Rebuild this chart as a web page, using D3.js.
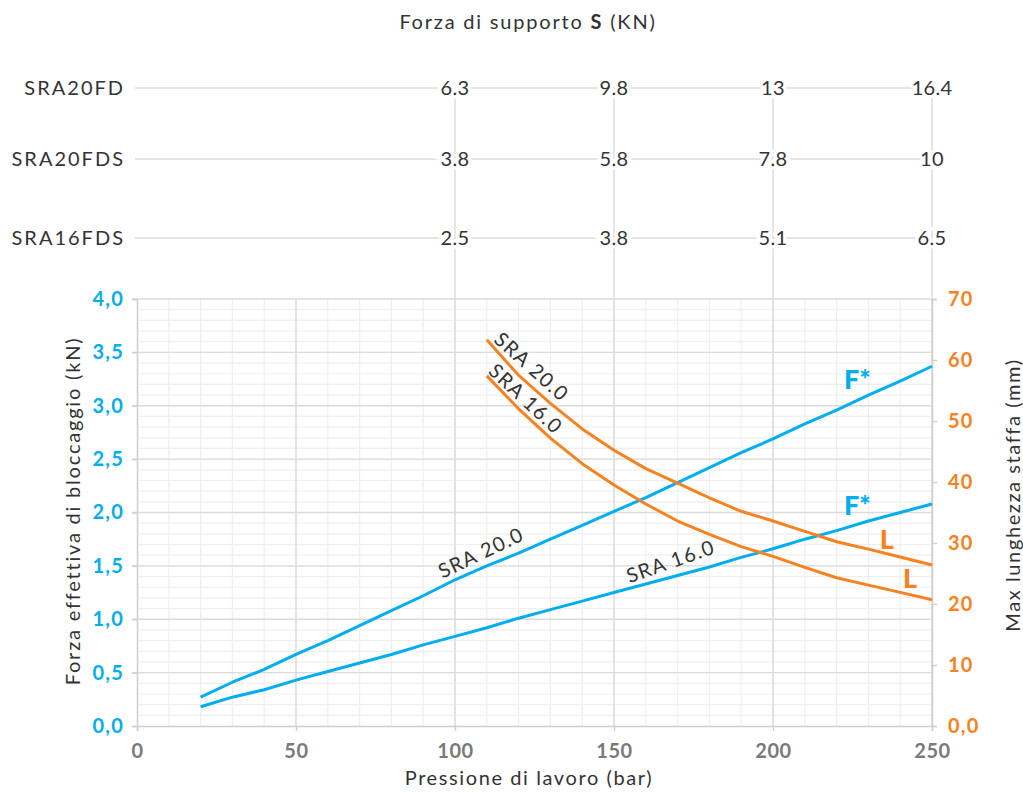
<!DOCTYPE html>
<html>
<head>
<meta charset="utf-8">
<script src="https://cdn.jsdelivr.net/npm/d3@7"></script>
<style>
  body { margin: 0; background: #fff; }
  text { font-family: Lato, "Open Sans", sans-serif; }
</style>
</head>
<body>
<div class="chart"></div>
<script>
const w = 1023;
const h = 792;

// top table: support force S (kN) per model at 100/150/200/250 bar
const models = ["SRA20FD", "SRA20FDS", "SRA16FDS"];
const tablePressures = [100, 150, 200, 250];
const supportForce = [
    [6.3, 9.8, 13, 16.4],
    [3.8, 5.8, 7.8, 10],
    [2.5, 3.8, 5.1, 6.5]
];

// clamping force curves (kN)
const pressureF = [20, 30, 40, 50, 60, 70, 80, 90, 100, 110, 120, 130, 140, 150, 160, 170, 180, 190, 200, 210, 220, 230, 240, 250];
const forceSRA20 = [0.27, 0.41, 0.53, 0.67, 0.80, 0.94, 1.08, 1.22, 1.37, 1.50, 1.62, 1.75, 1.88, 2.01, 2.14, 2.28, 2.42, 2.56, 2.69, 2.83, 2.96, 3.10, 3.23, 3.37];
const forceSRA16 = [0.18, 0.27, 0.34, 0.43, 0.51, 0.59, 0.67, 0.76, 0.84, 0.92, 1.01, 1.09, 1.17, 1.25, 1.33, 1.41, 1.49, 1.58, 1.66, 1.75, 1.83, 1.92, 2.00, 2.08];

// max clamp arm length curves (mm)
const pressureL = [110, 120, 130, 140, 150, 160, 170, 180, 190, 200, 210, 220, 230, 240, 250];
const lengthSRA20 = [63.3, 57.5, 52.9, 48.7, 45.2, 42.2, 39.8, 37.4, 35.2, 33.6, 31.9, 30.2, 29.0, 27.7, 26.4];
const lengthSRA16 = [57.4, 52.0, 47.2, 43.0, 39.5, 36.4, 33.6, 31.4, 29.4, 27.8, 26.0, 24.3, 23.1, 21.9, 20.7];

const xTicks = [0, 50, 100, 150, 200, 250];
const leftTicks = [0, 0.5, 1, 1.5, 2, 2.5, 3, 3.5, 4];
const rightTicks = [0, 10, 20, 30, 40, 50, 60, 70];

const blue = "#00aeef";
const orange = "#f7821f";
const ink = "#333";
const rowY = [88, 159, 238];

const svg = d3.select(".chart")
    .append("svg")
    .attr("width", w)
    .attr("height", h)

const x = d3.scaleLinear([0, 250], [137, 932]);
const yL = d3.scaleLinear([0, 4], [726, 299]);
const yR = d3.scaleLinear([0, 70], [726, 299]);

// grid
const grid = svg.append("g");
grid.selectAll(".vminor")
    .data(d3.range(10, 250, 10))
    .enter().append("line")
    .attr("x1", d => x(d)).attr("x2", d => x(d))
    .attr("y1", yL(4)).attr("y2", yL(0))
    .attr("stroke", "#efefef").attr("stroke-width", 1.2)
grid.selectAll(".hminor")
    .data(d3.range(0.1, 4, 0.1))
    .enter().append("line")
    .attr("x1", x(0)).attr("x2", x(250))
    .attr("y1", d => yL(d)).attr("y2", d => yL(d))
    .attr("stroke", "#efefef").attr("stroke-width", 1.2)
grid.selectAll(".vmajor")
    .data(xTicks.slice(1))
    .enter().append("line")
    .attr("x1", d => x(d)).attr("x2", d => x(d))
    .attr("y1", d => d >= 100 ? rowY[0] : yL(4)).attr("y2", yL(0))
    .attr("stroke", "#dcdcdc").attr("stroke-width", 1.4)
grid.selectAll(".hmajor")
    .data(leftTicks.slice(1))
    .enter().append("line")
    .attr("x1", x(0) - 5).attr("x2", x(250))
    .attr("y1", d => yL(d)).attr("y2", d => yL(d))
    .attr("stroke", "#dcdcdc").attr("stroke-width", 1.4)

// top table
const table = svg.append("g");
table.selectAll(".rowline")
    .data(models)
    .enter().append("line")
    .attr("x1", 135).attr("x2", x(250))
    .attr("y1", (d, i) => rowY[i]).attr("y2", (d, i) => rowY[i])
    .attr("stroke", "#dcdcdc").attr("stroke-width", 1.4)
table.selectAll(".model")
    .data(models)
    .enter().append("text")
    .attr("x", 125)
    .attr("y", (d, i) => rowY[i] + 7)
    .attr("text-anchor", "end")
    .attr("fill", ink)
    .style("font-size", "20px")
    .style("letter-spacing", "2px")
    .text(d => d)
supportForce.forEach((row, i) => {
    table.selectAll(".val" + i)
        .data(row)
        .enter().append("text")
        .attr("x", (d, j) => x(tablePressures[j]))
        .attr("y", rowY[i] + 7)
        .attr("text-anchor", "middle")
        .attr("fill", ink)
        .attr("stroke", "#fff")
        .attr("stroke-width", 7)
        .attr("paint-order", "stroke")
        .style("font-size", "20px")
        .style("letter-spacing", "0.3px")
        .text(d => d)
})

const title = svg.append("text")
    .attr("x", 528).attr("y", 29)
    .attr("text-anchor", "middle")
    .attr("fill", ink)
    .style("font-size", "20px")
    .style("letter-spacing", "1.8px")
title.append("tspan").text("Forza di supporto ")
title.append("tspan").style("font-weight", 700).text("S")
title.append("tspan").text(" (KN)")

// axes
const fmtComma = d => d3.format(".1f")(d).replace(".", ",");

const axL = svg.append("g")
    .attr("transform", `translate(${x(0)},0)`)
    .call(d3.axisLeft(yL).tickValues(leftTicks).tickFormat(fmtComma).tickSize(5).tickPadding(8))
axL.selectAll("text").attr("fill", blue).style("font-size", "20px").style("font-weight", 700).style("letter-spacing", "1.2px")

const axR = svg.append("g")
    .attr("transform", `translate(${x(250)},0)`)
    .call(d3.axisRight(yR).tickValues(rightTicks).tickFormat(d => d === 0 ? "0,0" : d).tickSize(5).tickPadding(11))
axR.selectAll("text").attr("fill", orange).style("font-size", "20px").style("font-weight", 700).style("letter-spacing", "1.2px")

const axB = svg.append("g")
    .attr("transform", `translate(0,${yL(0)})`)
    .call(d3.axisBottom(x).tickValues(xTicks).tickSize(5).tickPadding(13))
axB.selectAll("text").attr("fill", "#7a7a7a").style("font-size", "20px").style("font-weight", 700).style("letter-spacing", "0.6px")

svg.selectAll(".domain").attr("stroke", "#cfcfcf").attr("stroke-width", 1.6)
svg.selectAll(".tick line").attr("stroke", "#cfcfcf").attr("stroke-width", 1.4)

svg.append("text")
    .attr("transform", "translate(80,511) rotate(-90)")
    .attr("text-anchor", "middle")
    .attr("fill", ink)
    .style("font-size", "20px")
    .style("letter-spacing", "1.8px")
    .text("Forza effettiva di bloccaggio (kN)")

svg.append("text")
    .attr("transform", "translate(1020,495) rotate(-90)")
    .attr("text-anchor", "middle")
    .attr("fill", ink)
    .style("font-size", "20px")
    .style("letter-spacing", "1.6px")
    .text("Max lunghezza staffa (mm)")

svg.append("text")
    .attr("x", 529).attr("y", 785)
    .attr("text-anchor", "middle")
    .attr("fill", ink)
    .style("font-size", "20px")
    .style("letter-spacing", "1.6px")
    .text("Pressione di lavoro (bar)")

// curves
const lineF = d3.line().x(d => x(d[0])).y(d => yL(d[1]));
const lineL = d3.line().x(d => x(d[0])).y(d => yR(d[1]));

const curves = [
    { pts: d3.zip(pressureF, forceSRA20), gen: lineF, color: blue },
    { pts: d3.zip(pressureF, forceSRA16), gen: lineF, color: blue },
    { pts: d3.zip(pressureL, lengthSRA20), gen: lineL, color: orange },
    { pts: d3.zip(pressureL, lengthSRA16), gen: lineL, color: orange }
];

svg.selectAll(".curve")
    .data(curves)
    .enter().append("path")
    .attr("d", d => d.gen(d.pts))
    .attr("fill", "none")
    .attr("stroke", d => d.color)
    .attr("stroke-width", 3)
    .attr("stroke-linejoin", "round")

// curve labels
const curveLabels = [
    { text: "SRA 20.0", x: 527, y: 372, rot: 42 },
    { text: "SRA 16.0", x: 521, y: 404, rot: 43 },
    { text: "SRA 20.0", x: 484, y: 559, rot: -25.4 },
    { text: "SRA 16.0", x: 673, y: 568, rot: -19.4 }
];
svg.selectAll(".clabel")
    .data(curveLabels)
    .enter().append("text")
    .attr("transform", d => `translate(${d.x},${d.y}) rotate(${d.rot})`)
    .attr("text-anchor", "middle")
    .attr("fill", ink)
    .style("font-size", "20px")
    .style("letter-spacing", "1.4px")
    .text(d => d.text)

const tags = [
    { text: "F*", p: 222.3, v: yL(3.16), color: blue },
    { text: "F*", p: 222.3, v: yL(1.98), color: blue },
    { text: "L", p: 233.6, v: yR(29.0), color: orange },
    { text: "L", p: 240.9, v: yR(22.6), color: orange }
];
svg.selectAll(".tag")
    .data(tags)
    .enter().append("text")
    .attr("x", d => x(d.p))
    .attr("y", d => d.v)
    .attr("fill", d => d.color)
    .style("font-size", "27px")
    .style("font-weight", 900)
    .text(d => d.text)
</script>
</body>
</html>
